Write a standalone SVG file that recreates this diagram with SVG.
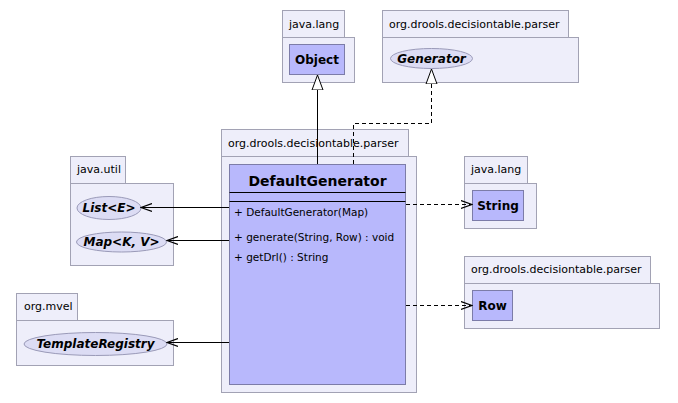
<svg xmlns="http://www.w3.org/2000/svg" width="678" height="403" viewBox="0 0 678 403">
<style>
.pkg{fill:#eeeefa;stroke:#a2a2b4;stroke-width:1}
.cls{fill:#b8b8fc;stroke:#7c7ca8;stroke-width:1}
.ell{fill:#dcdcf4;stroke:#9a9ab8;stroke-width:1}
.pl{font-family:"DejaVu Sans",sans-serif;font-size:11px;fill:#000}
.cn{font-family:"DejaVu Sans",sans-serif;font-size:12px;font-weight:bold;fill:#000}
.in{font-family:"DejaVu Sans",sans-serif;font-size:12px;font-weight:bold;font-style:italic;fill:#000}
.mt{font-family:"DejaVu Sans",sans-serif;font-size:10.5px;fill:#000}
.ln{fill:none;stroke:#000;stroke-width:1}
.dl{fill:none;stroke:#000;stroke-width:1;stroke-dasharray:4,3}
</style>
<defs>
<marker id="open" viewBox="0 0 12 10" refX="11" refY="5" markerWidth="12" markerHeight="10" markerUnits="userSpaceOnUse" orient="auto">
<path d="M0,1 L11,5 L0,9" fill="none" stroke="#000" stroke-width="1.2"/>
</marker>
<marker id="tri" viewBox="0 0 16 13" refX="15" refY="6.5" markerWidth="16" markerHeight="13" markerUnits="userSpaceOnUse" orient="auto">
<path d="M15,6.5 L0,1 L0,12 Z" fill="#fff" stroke="#000" stroke-width="1"/>
</marker>
</defs>

<g id="pkg-java-lang-object">
<rect class="pkg" x="282.5" y="10.5" width="62" height="27"/>
<rect class="pkg" x="282.5" y="37.5" width="72" height="45"/>
<text class="pl" x="289" y="28">java.lang</text>
<rect class="cls" x="289.5" y="44.5" width="55" height="30"/>
<text class="cn" x="317" y="63.5" text-anchor="middle">Object</text>
</g>

<g id="pkg-parser-generator">
<rect class="pkg" x="382.5" y="10.5" width="186" height="27"/>
<rect class="pkg" x="382.5" y="37.5" width="196" height="45"/>
<text class="pl" x="389" y="28">org.drools.decisiontable.parser</text>
<ellipse class="ell" cx="431.5" cy="58.5" rx="41" ry="10"/>
<text class="in" x="431.5" y="62.5" text-anchor="middle">Generator</text>
</g>

<g id="pkg-java-util">
<rect class="pkg" x="70.5" y="156.5" width="55" height="27"/>
<rect class="pkg" x="70.5" y="183.5" width="103" height="82"/>
<text class="pl" x="77" y="173">java.util</text>
<ellipse class="ell" cx="109" cy="208" rx="32" ry="11.5"/>
<text class="in" x="109" y="212" text-anchor="middle">List&lt;E&gt;</text>
<ellipse class="ell" cx="121.5" cy="242" rx="45" ry="10"/>
<text class="in" x="121.5" y="246" text-anchor="middle">Map&lt;K, V&gt;</text>
</g>

<g id="pkg-org-mvel">
<rect class="pkg" x="16.5" y="293.5" width="61" height="27"/>
<rect class="pkg" x="16.5" y="320.5" width="157" height="45"/>
<text class="pl" x="24" y="310">org.mvel</text>
<ellipse class="ell" cx="95.5" cy="344" rx="71.5" ry="11.5"/>
<text class="in" x="95.5" y="348" text-anchor="middle">TemplateRegistry</text>
</g>

<g id="pkg-java-lang-string">
<rect class="pkg" x="464.5" y="156.5" width="63" height="27"/>
<rect class="pkg" x="464.5" y="183.5" width="72" height="45"/>
<text class="pl" x="471" y="173">java.lang</text>
<rect class="cls" x="472.5" y="190.5" width="51" height="30"/>
<text class="cn" x="498" y="209.5" text-anchor="middle">String</text>
</g>

<g id="pkg-parser-row">
<rect class="pkg" x="464.5" y="256.5" width="186" height="27"/>
<rect class="pkg" x="464.5" y="283.5" width="195" height="45"/>
<text class="pl" x="471" y="273">org.drools.decisiontable.parser</text>
<rect class="cls" x="472.5" y="290.5" width="40" height="30"/>
<text class="cn" x="492.5" y="309.5" text-anchor="middle">Row</text>
</g>

<g id="pkg-parser-main">
<rect class="pkg" x="221.5" y="129.5" width="187" height="27"/>
<rect class="pkg" x="221.5" y="156.5" width="195" height="236"/>
<text class="pl" x="228" y="147">org.drools.decisiontable.parser</text>
</g>

<g id="DefaultGenerator">
<rect class="cls" x="229.5" y="164.5" width="176" height="220"/>
<text x="317.5" y="186" text-anchor="middle" font-family="DejaVu Sans, sans-serif" font-size="14" font-weight="bold">DefaultGenerator</text>
<line class="ln" x1="229.5" y1="192.5" x2="405.5" y2="192.5"/>
<line class="ln" x1="229.5" y1="201.5" x2="405.5" y2="201.5"/>
<text class="mt" x="234" y="216">+ DefaultGenerator(Map)</text>
<text class="mt" x="234" y="241">+ generate(String, Row) : void</text>
<text class="mt" x="234" y="261">+ getDrl() : String</text>
</g>

<g id="connectors">
<line class="ln" x1="317.5" y1="164" x2="317.5" y2="75" marker-end="url(#tri)"/>
<polyline class="dl" points="353.5,164 353.5,123.5 431.5,123.5 431.5,69" marker-end="url(#tri)"/>
<line class="ln" x1="229" y1="207.5" x2="141" y2="207.5" marker-end="url(#open)"/>
<line class="ln" x1="229" y1="240.5" x2="167" y2="240.5" marker-end="url(#open)"/>
<line class="ln" x1="229" y1="342.5" x2="167" y2="342.5" marker-end="url(#open)"/>
<line class="dl" x1="406" y1="204.5" x2="472" y2="204.5" marker-end="url(#open)"/>
<line class="dl" x1="406" y1="305.5" x2="472" y2="305.5" marker-end="url(#open)"/>
</g>
</svg>
